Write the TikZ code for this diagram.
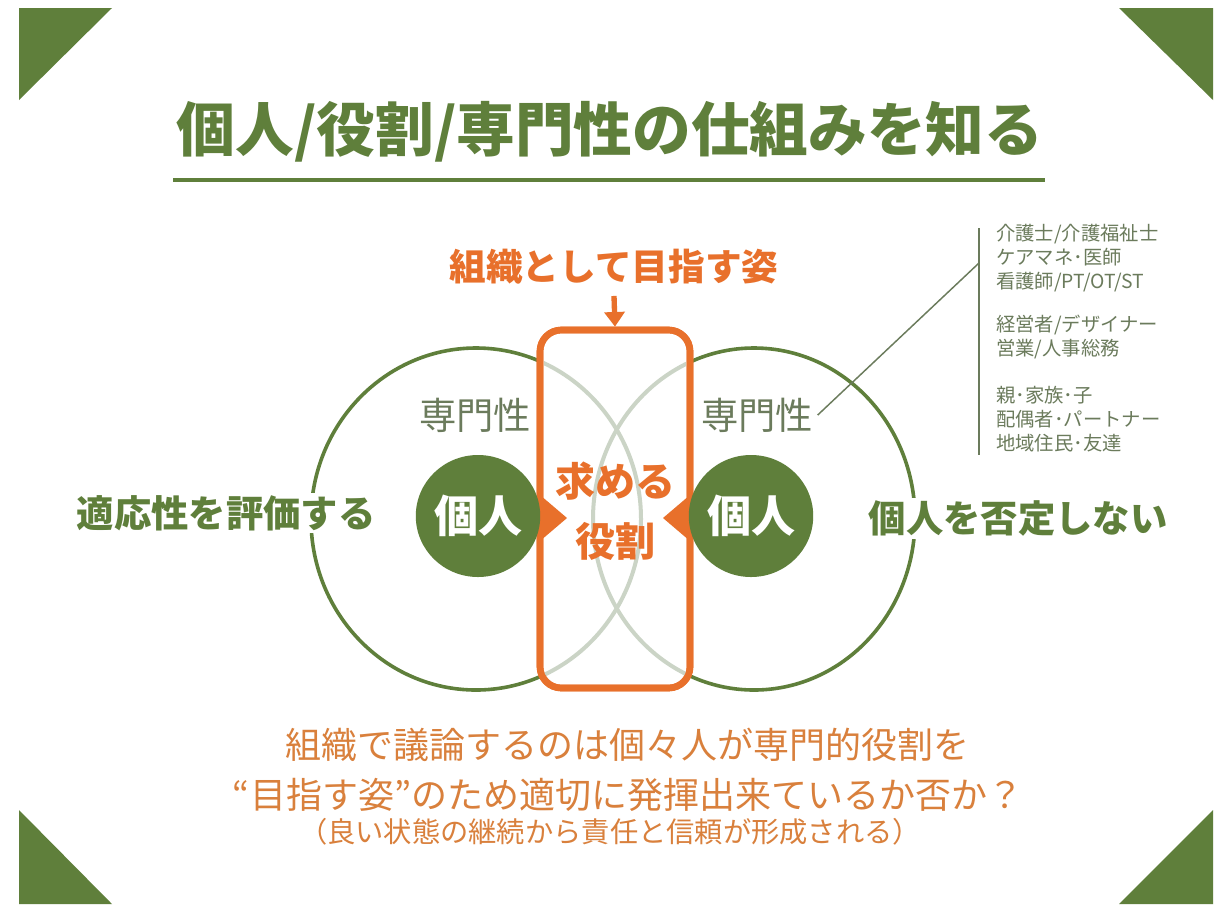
\documentclass[tikz,border=0pt]{standalone}
\usepackage{fontspec}
\setmainfont{Noto Sans CJK JP}
\usetikzlibrary{arrows.meta,shapes.geometric}
\definecolor{grn}{HTML}{5F7F3B}
\definecolor{org}{HTML}{E8702B}
\definecolor{org2}{HTML}{D9803C}
\definecolor{gtext}{HTML}{6B7B5C}
\definecolor{garc}{HTML}{CBD4C6}
\tikzset{
  corner/.style={fill=grn},
  jtitle/.style={text=grn,font=\bfseries\fontsize{44}{44}\selectfont},
  side/.style={text=grn,fill=white,inner sep=2pt,font=\bfseries\fontsize{28}{28}\selectfont},
  spec/.style={text=gtext,font=\fontsize{28}{28}\selectfont},
  person/.style={ellipse,fill=grn,text=white,minimum width=84.75pt,minimum height=91.5pt,inner sep=0pt,font=\bfseries\fontsize{33}{33}\selectfont},
  role/.style={text=org,font=\bfseries\fontsize{30}{30}\selectfont},
  goal/.style={text=org,font=\bfseries\fontsize{27.5}{27.5}\selectfont},
  bottom/.style={text=org2,font=\fontsize{27}{27}\selectfont},
  note/.style={text=org2,font=\fontsize{21.2}{21.2}\selectfont},
  listtxt/.style={text=gtext,align=left,anchor=north west,inner sep=0pt,font=\fontsize{14.5}{17.8}\selectfont},
  bigring/.style={draw=grn,line width=2.7pt},
  faintring/.style={draw=garc,line width=3pt},
}
\begin{document}
\begin{tikzpicture}[x=0.75pt,y=-0.75pt]
\useasboundingbox (0,0) rectangle (1226,922);
\fill[white] (0,0) rectangle (1226,922);
% corner triangles
\fill[corner] (19,8) -- (112,8) -- (19,100) -- cycle;
\fill[corner] (1119,8) -- (1213,8) -- (1213,100) -- cycle;
\fill[corner] (19,810) -- (19,904) -- (112,904) -- cycle;
\fill[corner] (1213,810) -- (1213,904) -- (1119,904) -- cycle;
% title
\node[jtitle] (title) at (610,132) {個人/役割/専門性の仕組みを知る};
\coordinate (ulA) at (173,180);
\coordinate (ulB) at (1045,180);
\draw[grn,line width=3.6pt] (ulA) -- (ulB);
% big rings
\draw[bigring] (476,519) ellipse [x radius=165, y radius=171];
\draw[bigring] (754,519) ellipse [x radius=161, y radius=171];
% central box
\node[draw=org,fill=white,line width=5pt,rounded corners=16pt,minimum width=112.5pt,minimum height=268.5pt,inner sep=0pt] (box) at (615,509) {};
\begin{scope}
  \clip (544,334) rectangle (686,684);
  \draw[faintring] (476,519) ellipse [x radius=165, y radius=171];
  \draw[faintring] (754,519) ellipse [x radius=161, y radius=171];
\end{scope}
\node[draw=org,line width=5pt,rounded corners=16pt,minimum width=112.5pt,minimum height=268.5pt,inner sep=0pt] (boxline) at (615,509) {};
% triangles
\fill[org] (540,495) -- (567,518) -- (540,541) -- cycle;
\fill[org] (690,495) -- (663,518) -- (690,541) -- cycle;
% role text
\node[role] (role1) at (615,481) {求める};
\node[role] (role2) at (615,541) {役割};
% persons
\node[person] (p1) at (478,516) {個人};
\node[person] (p2) at (751,516) {個人};
% specialties
\node[spec] (sp1) at (475,415) {専門性};
\node[spec] (sp2) at (757,415) {専門性};
% side labels
\node[side] (left) at (226,513) {適応性を評価する};
\node[side] (right) at (1018,518) {個人を否定しない};
% goal
\node[goal] (goal) at (614,267) {組織として目指す姿};
\draw[org,line width=4pt,-{Triangle[width=15pt,length=11pt]}] ([yshift=-5pt]goal.south) -- (box.north);
% list on the right
\coordinate (vtop) at (979,228);
\coordinate (vbot) at (979,455);
\coordinate (vjoin) at (979,263);
\draw[gtext,line width=1.5pt] (vtop) -- (vbot);
\draw[gtext,line width=1.1pt] (sp2.east) -- (vjoin);
\node[listtxt] (g1) at (996,224) {介護士/介護福祉士\\ケアマネ･医師\\看護師/PT/OT/ST};
\node[listtxt] (g2) at (996,315) {経営者/デザイナー\\営業/人事総務};
\node[listtxt] (g3) at (996,386) {親･家族･子\\配偶者･パートナー\\地域住民･友達};
% bottom text
\node[bottom] (b1) at (627,745) {組織で議論するのは個々人が専門的役割を};
\node[bottom] (b2) at (628,795) {“目指す姿”のため適切に発揮出来ているか否か？};
\node[note] (b3) at (610,832) {（良い状態の継続から責任と信頼が形成される）};
\end{tikzpicture}
\end{document}
